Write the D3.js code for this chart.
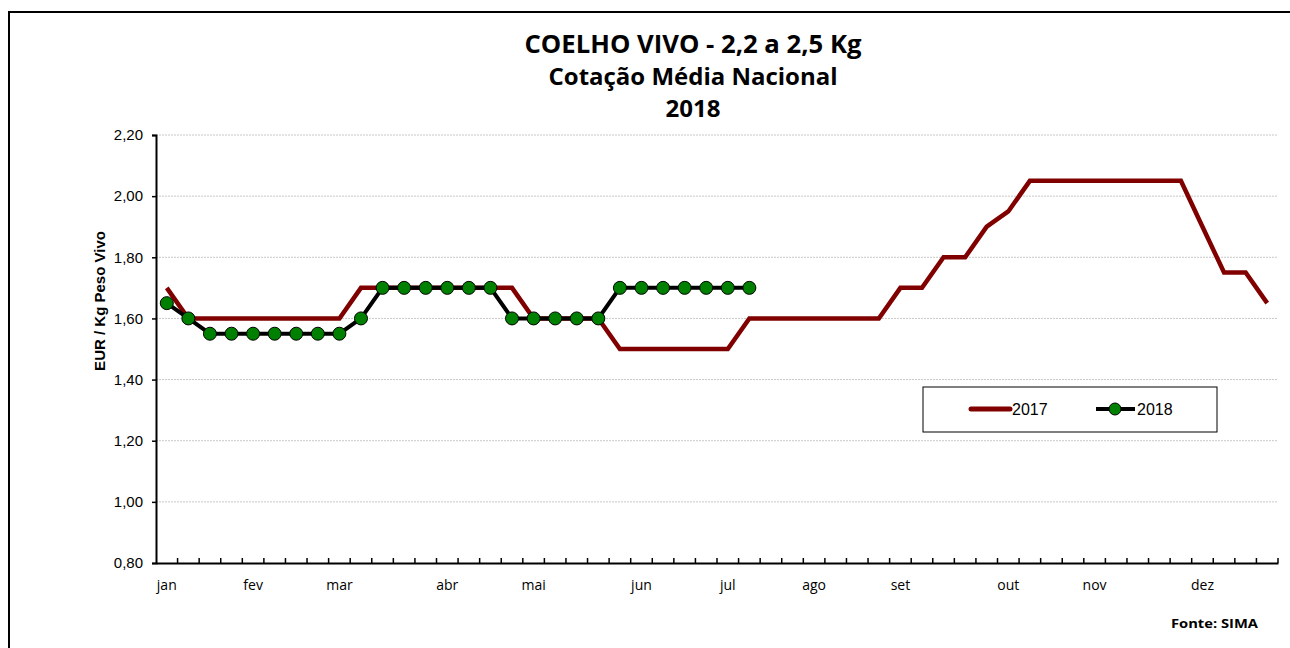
<!DOCTYPE html>
<html>
<head>
<meta charset="utf-8">
<script src="https://cdn.jsdelivr.net/npm/d3@7"></script>
<style>
  body { margin: 0; background: #fff; }
  svg { display: block; }
</style>
</head>
<body>
<div id="chart"></div>
<script>
// weekly prices, EUR / Kg peso vivo
const weeks = d3.range(1, 53);
const monthLabels = ["jan", "fev", "mar", "abr", "mai", "jun", "jul", "ago", "set", "out", "nov", "dez"];
const monthWeek = [1, 5, 9, 14, 18, 23, 27, 31, 35, 40, 44, 49];
const yTicks = [0.8, 1.0, 1.2, 1.4, 1.6, 1.8, 2.0, 2.2];

const prices2017 = [1.70, 1.60, 1.60, 1.60, 1.60, 1.60, 1.60, 1.60, 1.60, 1.70,
                    1.70, 1.70, 1.70, 1.70, 1.70, 1.70, 1.70, 1.60, 1.60, 1.60,
                    1.60, 1.50, 1.50, 1.50, 1.50, 1.50, 1.50, 1.60, 1.60, 1.60,
                    1.60, 1.60, 1.60, 1.60, 1.70, 1.70, 1.80, 1.80, 1.90, 1.95,
                    2.05, 2.05, 2.05, 2.05, 2.05, 2.05, 2.05, 2.05, 1.90, 1.75,
                    1.75, 1.65];
const prices2018 = [1.65, 1.60, 1.55, 1.55, 1.55, 1.55, 1.55, 1.55, 1.55, 1.60,
                    1.70, 1.70, 1.70, 1.70, 1.70, 1.70, 1.60, 1.60, 1.60, 1.60,
                    1.60, 1.70, 1.70, 1.70, 1.70, 1.70, 1.70, 1.70];

const W = 1290, H = 648;
const plot = { left: 156, right: 1278, top: 135, bottom: 563 };
const fmt = d3.format(".2f");

const svg = d3.select("#chart").append("svg")
    .attr("width", W)
    .attr("height", H);

// outer frame (runs off the right and bottom edges)
svg.append("rect")
    .attr("x", 9).attr("y", 12)
    .attr("width", 1300).attr("height", 700)
    .attr("fill", "#fff")
    .attr("stroke", "#000")
    .attr("stroke-width", 2);

// titles - widths, calibri is not here
const titleFont = "'Open Sans', sans-serif";
const titles = ["COELHO VIVO - 2,2 a 2,5 Kg", "Cotação Média Nacional", "2018"];
const titleSize = [25, 24, 24];
const titleWidth = [337, 289, 55];
svg.selectAll("text.title")
    .data(titles)
    .join("text")
    .attr("class", "title")
    .attr("x", 693)
    .attr("y", (d, i) => 53 + i * 32)
    .attr("text-anchor", "middle")
    .attr("font-family", titleFont)
    .attr("font-weight", "bold")
    .attr("font-size", (d, i) => titleSize[i])
    .attr("textLength", (d, i) => titleWidth[i])
    .attr("lengthAdjust", "spacingAndGlyphs")
    .text(d => d);

const x = d3.scaleBand().domain(weeks).range([plot.left, plot.right]).padding(0);
const y = d3.scaleLinear().domain([0.8, 2.2]).range([plot.bottom, plot.top]);
const cx = w => x(w) + x.bandwidth() / 2;

// gridlines
svg.append("g")
    .selectAll("line")
    .data(yTicks.slice(1))
    .join("line")
    .attr("x1", plot.left).attr("x2", plot.right)
    .attr("y1", d => y(d)).attr("y2", d => y(d))
    .attr("stroke", "#c8c8c8")
    .attr("stroke-width", 1)
    .attr("stroke-dasharray", "2,1");

// y axis
const yAxis = d3.axisLeft(y).tickValues(yTicks).tickSize(4).tickPadding(9)
    .tickFormat(d => fmt(d).replace(".", ","));
const gy = svg.append("g")
    .attr("transform", `translate(${plot.left},0)`)
    .call(yAxis);
gy.select(".domain").attr("stroke-width", 2);
gy.selectAll(".tick line").attr("stroke-width", 1.5);
gy.selectAll("text")
    .attr("font-family", "'Liberation Sans', Arial, sans-serif")
    .attr("font-size", 15)
    .attr("fill", "#000");

// x axis: tick marks between weeks, pointing up
const xAxis = d3.axisBottom(x).tickSize(0).tickPadding(17)
    .tickFormat(w => monthLabels[monthWeek.indexOf(w)] || "");
const gx = svg.append("g")
    .attr("transform", `translate(0,${plot.bottom})`)
    .call(xAxis);
gx.select(".domain").attr("stroke-width", 2);
gx.selectAll("text")
    .attr("font-family", titleFont)
    .attr("font-size", 14)
    .attr("fill", "#000");
gx.selectAll("line.wk")
    .data(weeks)
    .join("line")
    .attr("class", "wk")
    .attr("x1", w => x(w) + x.bandwidth()).attr("x2", w => x(w) + x.bandwidth())
    .attr("y1", 0).attr("y2", -5)
    .attr("stroke", "#000")
    .attr("stroke-width", 1.5);

// y axis title
svg.append("text")
    .attr("transform", "translate(105,301) rotate(-90)")
    .attr("text-anchor", "middle")
    .attr("font-family", "'Liberation Sans', Arial, sans-serif")
    .attr("font-weight", "bold")
    .attr("font-size", 15)
    .text("EUR / Kg Peso Vivo");

const line = d3.line().x((d, i) => cx(weeks[i])).y(d => y(d));

// 2017
svg.append("path")
    .datum(prices2017)
    .attr("d", line)
    .attr("fill", "none")
    .attr("stroke", "#800000")
    .attr("stroke-width", 4.5);

// 2018
svg.append("path")
    .datum(prices2018)
    .attr("d", line)
    .attr("fill", "none")
    .attr("stroke", "#000")
    .attr("stroke-width", 4);

svg.append("g")
    .selectAll("circle")
    .data(prices2018)
    .join("circle")
    .attr("cx", (d, i) => cx(weeks[i]))
    .attr("cy", d => y(d))
    .attr("r", 6.5)
    .attr("fill", "#008000")
    .attr("stroke", "#000")
    .attr("stroke-width", 1);

// legend
const lg = svg.append("g").attr("transform", "translate(923,387)");
lg.append("rect")
    .attr("width", 294).attr("height", 45)
    .attr("fill", "#fff")
    .attr("stroke", "#000")
    .attr("stroke-width", 1);
lg.append("line")
    .attr("x1", 48).attr("x2", 87).attr("y1", 22).attr("y2", 22)
    .attr("stroke", "#800000").attr("stroke-width", 5).attr("stroke-linecap", "round");
lg.append("text")
    .attr("x", 89).attr("y", 28)
    .attr("font-family", "'Liberation Sans', Arial, sans-serif")
    .attr("font-size", 16)
    .text("2017");
lg.append("line")
    .attr("x1", 173).attr("x2", 212).attr("y1", 22).attr("y2", 22)
    .attr("stroke", "#000").attr("stroke-width", 4);
lg.append("circle")
    .attr("cx", 192).attr("cy", 22).attr("r", 6)
    .attr("fill", "#008000").attr("stroke", "#000").attr("stroke-width", 1);
lg.append("text")
    .attr("x", 214).attr("y", 28)
    .attr("font-family", "'Liberation Sans', Arial, sans-serif")
    .attr("font-size", 16)
    .text("2018");

// source
svg.append("text")
    .attr("x", 1258).attr("y", 628)
    .attr("text-anchor", "end")
    .attr("font-family", titleFont)
    .attr("font-weight", "bold")
    .attr("font-size", 13)
    .attr("textLength", 87)
    .attr("lengthAdjust", "spacingAndGlyphs")
    .text("Fonte: SIMA");
</script>
</body>
</html>
